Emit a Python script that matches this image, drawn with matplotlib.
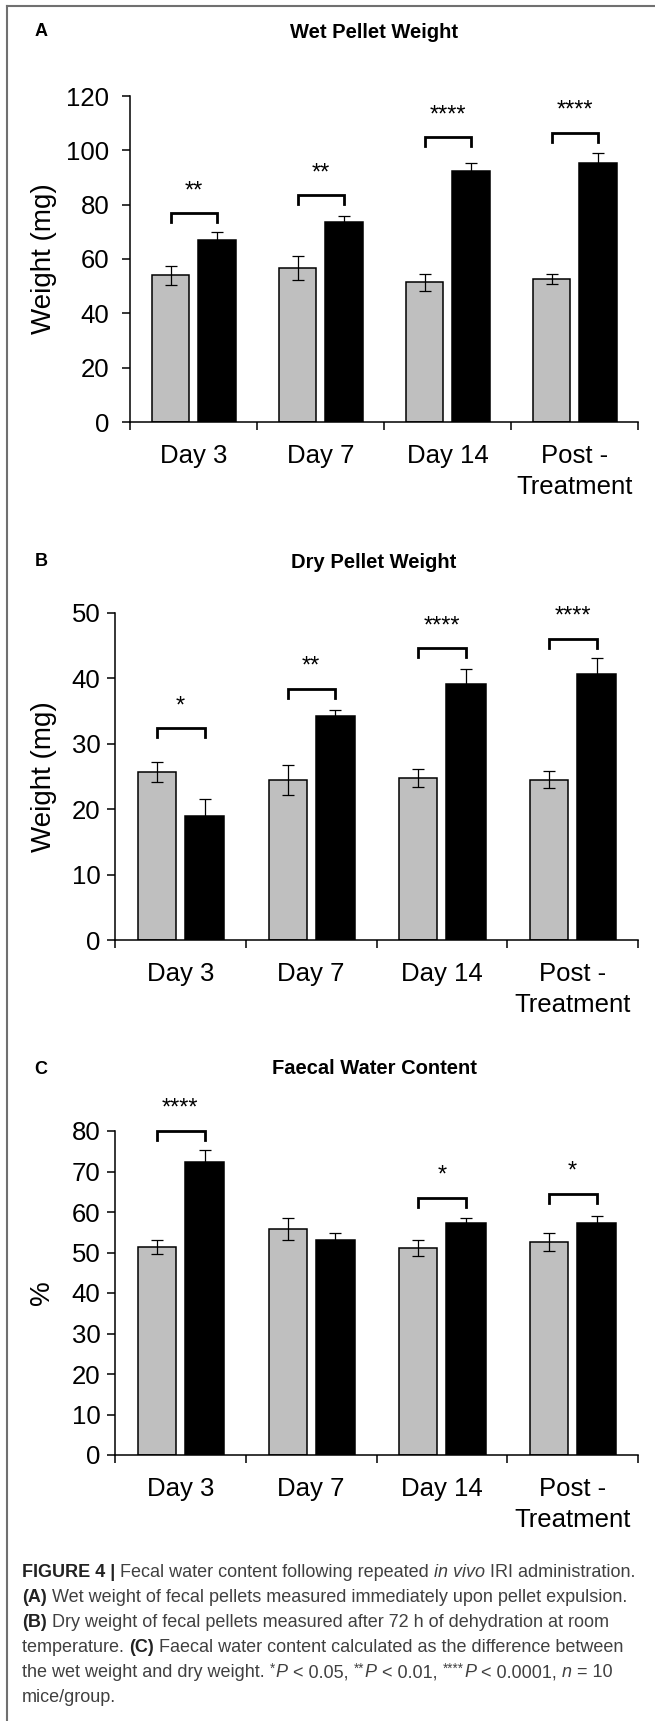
import matplotlib
matplotlib.use("Agg")
from matplotlib import pyplot as plt
from matplotlib.lines import Line2D
from matplotlib.font_manager import FontProperties

plt.rcParams['font.family'] = ['Liberation Sans', 'DejaVu Sans']

days = ["Day 3", "Day 7", "Day 14", "Post -\nTreatment"]

# A - wet pellet weight (mg)
wet_ctrl = [54.0, 56.8, 51.4, 52.6]
wet_ctrl_err = [3.4, 4.4, 3.1, 1.7]
wet_iri = [67.0, 73.8, 92.5, 95.2]
wet_iri_err = [2.9, 2.0, 2.7, 3.8]
wet_sig = ["**", "**", "****", "****"]
wet_bracket = [76.9, 83.4, 104.9, 106.4]

# B - dry pellet weight (mg)
dry_ctrl = [25.7, 24.5, 24.8, 24.5]
dry_ctrl_err = [1.5, 2.3, 1.4, 1.3]
dry_iri = [18.9, 34.3, 39.2, 40.7]
dry_iri_err = [2.7, 0.9, 2.3, 2.4]
dry_sig = ["*", "**", "****", "****"]
dry_bracket = [32.4, 38.4, 44.6, 46.1]

# C - faecal water content (%)
water_ctrl = [51.4, 55.9, 51.1, 52.6]
water_ctrl_err = [1.8, 2.7, 1.9, 2.3]
water_iri = [72.3, 53.2, 57.3, 57.3]
water_iri_err = [3.0, 1.6, 1.1, 1.7]
water_sig = ["****", "", "*", "*"]
water_bracket = [80.0, None, 63.5, 64.5]

W, H = 655, 1721
fig = plt.figure(figsize=(W / 100, H / 100), dpi=100)


def px_axes(left, right, top, bottom):
    return fig.add_axes([left / W, 1 - bottom / H, (right - left) / W, (bottom - top) / H])


def panel(ax, ctrl, ctrl_err, iri, iri_err, sig, brackets, ymax, ystep, ylabel, label_x, pad):
    n = len(ctrl)
    centers = [i + 0.5 for i in range(n)]
    xg = [c - 0.18 for c in centers]
    xb = [c + 0.185 for c in centers]
    ax.bar(xg, ctrl, width=0.29, color="#bfbfbf", edgecolor="black", linewidth=1.1, zorder=2)
    ax.bar(xb, iri, width=0.30, color="black", edgecolor="black", linewidth=1.1, zorder=2)
    ax.errorbar(xg, ctrl, yerr=ctrl_err, fmt="none", ecolor="black", elinewidth=0.9,
                capsize=4.3, capthick=0.9, zorder=3)
    ax.errorbar(xb, iri, yerr=iri_err, fmt="none", ecolor="black", elinewidth=0.9,
                capsize=4.3, capthick=0.9, zorder=3)
    ax.set_xlim(0, n)
    ax.set_ylim(0, ymax)
    # bracket drop of ~9 px expressed in data units
    ax_h = ax.get_position().height * H
    drop = 9 * ymax / ax_h
    for i in range(n):
        if brackets[i] is None:
            continue
        y = brackets[i]
        ax.plot([xg[i], xg[i], xb[i], xb[i]], [y - drop, y, y, y - drop], color="black",
                lw=2.0, clip_on=False, solid_joinstyle="miter")
        ax.annotate(sig[i], (centers[i], y), xytext=(0, 11.5), textcoords="offset points",
                    ha="center", va="baseline", fontsize=17, annotation_clip=False)
    ax.set_yticks(range(0, ymax + 1, ystep))
    ax.set_xticks(range(0, n + 1))
    ax.set_xticklabels([])
    ax.set_xticks(centers, minor=True)
    ax.set_xticklabels(days, minor=True, fontsize=18.5, linespacing=1.36)
    ax.tick_params(axis="x", which="major", length=6, width=1.1, direction="out")
    ax.tick_params(axis="x", which="minor", length=0, pad=16)
    ax.tick_params(axis="y", length=6, width=1.1, labelsize=18.5, pad=pad)
    for s in ["top", "right"]:
        ax.spines[s].set_visible(False)
    for s in ["left", "bottom"]:
        ax.spines[s].set_linewidth(1.1)
    ax.set_ylabel(ylabel, fontsize=20, va="center")
    ax.yaxis.set_label_coords(label_x, 0.5)


axA = px_axes(130, 638, 96, 422)
panel(axA, wet_ctrl, wet_ctrl_err, wet_iri, wet_iri_err, wet_sig, wet_bracket,
      120, 20, "Weight (mg)", (44 - 130) / 508, 9)

axB = px_axes(115, 638, 613, 940)
panel(axB, dry_ctrl, dry_ctrl_err, dry_iri, dry_iri_err, dry_sig, dry_bracket,
      50, 10, "Weight (mg)", (44 - 115) / 523, 4.5)

axC = px_axes(115, 638, 1131, 1455)
panel(axC, water_ctrl, water_ctrl_err, water_iri, water_iri_err, water_sig, water_bracket,
      80, 10, "%", (42 - 115) / 523, 4.5)

# panel letters and titles
for letter, title, y in [("A", "Wet Pellet Weight", 32), ("B", "Dry Pellet Weight", 562),
                         ("C", "Faecal Water Content", 1069)]:
    fig.text(41 / W, 1 - y / H, letter, fontsize=13, fontweight="bold", ha="center", va="center")
    fig.text(374 / W, 1 - y / H, title, fontsize=14.5, fontweight="bold", ha="center", va="center")

# frame
fig.add_artist(Line2D([7 / W, 1], [1 - 6 / H, 1 - 6 / H], transform=fig.transFigure,
                      color="#707070", lw=1.5))
fig.add_artist(Line2D([7 / W, 7 / W], [1 - 6 / H, 0], transform=fig.transFigure,
                      color="#707070", lw=1.5))

# caption, drawn piece by piece: n = normal, b = bold, i = italic, s = superscript
cap_size = 13
caption = [
    [("FIGURE 4 | ", "b"), ("Fecal water content following repeated ", "n"), ("in vivo", "i"),
     (" IRI administration.", "n")],
    [("(A)", "b"), (" Wet weight of fecal pellets measured immediately upon pellet expulsion.", "n")],
    [("(B)", "b"), (" Dry weight of fecal pellets measured after 72 h of dehydration at room", "n")],
    [("temperature. ", "n"), ("(C)", "b"),
     (" Faecal water content calculated as the difference between", "n")],
    [("the wet weight and dry weight. ", "n"), ("*", "s"), ("P", "i"), (" < 0.05, ", "n"),
     ("**", "s"), ("P", "i"), (" < 0.01, ", "n"), ("****", "s"), ("P", "i"),
     (" < 0.0001, ", "n"), ("n", "i"), (" = 10", "n")],
    [("mice/group.", "n")],
]

renderer = fig.canvas.get_renderer()


def seg_props(style):
    size = cap_size * 0.75 if style == "s" else cap_size
    weight = "bold" if style == "b" else "normal"
    fstyle = "italic" if style == "i" else "normal"
    return size, weight, fstyle


def seg_width(txt, style):
    size, weight, fstyle = seg_props(style)
    fp = FontProperties(family="Liberation Sans", size=size, weight=weight, style=fstyle)
    w1, _, _ = renderer.get_text_width_height_descent("x" + txt + "x", fp, ismath=False)
    w2, _, _ = renderer.get_text_width_height_descent("xx", fp, ismath=False)
    return w1 - w2


for k, parts in enumerate(caption):
    x = 22.0
    base = 1577 + 25.1 * k
    for txt, style in parts:
        size, weight, fstyle = seg_props(style)
        y = base - 5 if style == "s" else base
        col = "#222222" if style == "b" else "#404040"
        fig.text(x / W, 1 - y / H, txt, fontsize=size, fontweight=weight, fontstyle=fstyle,
                 color=col, ha="left", va="baseline")
        x += seg_width(txt, style) + (1 if style == "s" else 0)

fig.savefig("out.png", dpi=100)
